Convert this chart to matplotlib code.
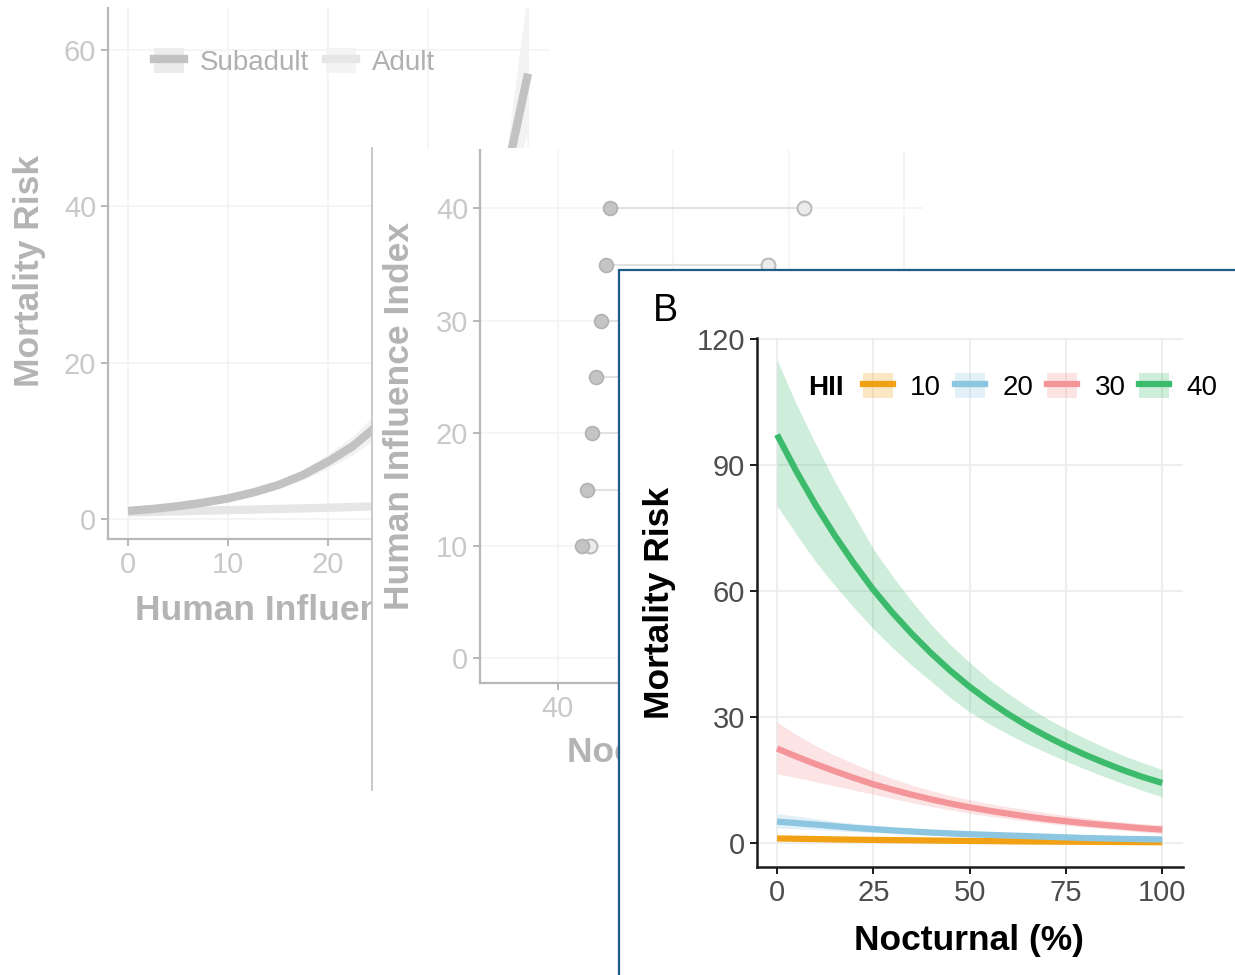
import numpy as np
import matplotlib
matplotlib.use("Agg")
import matplotlib.pyplot as plt
from matplotlib.patches import Rectangle, Patch
from matplotlib.lines import Line2D

plt.rcParams['font.family'] = ['Liberation Sans', 'DejaVu Sans']

# ---- panel A (back): mortality risk vs human influence, by age class
hii_x = [0, 2.5, 5, 7.5, 10, 12.5, 15, 17.5, 20, 22.5, 25, 27.5, 30, 32.5, 35, 37.5, 40]
subadult = [1.0, 1.25, 1.6, 2.05, 2.6, 3.35, 4.3, 5.6, 7.3, 9.3, 12.0, 15.5, 19.8, 25.5, 32.5, 42.0, 57.0]
subadult_lo = [0.9, 1.15, 1.45, 1.85, 2.35, 3.0, 3.85, 5.0, 6.4, 8.2, 10.4, 13.3, 16.8, 21.3, 26.8, 36.0, 50.0]
subadult_hi = [1.1, 1.4, 1.8, 2.3, 2.9, 3.75, 4.8, 6.3, 8.3, 10.6, 13.8, 17.5, 22.5, 28.5, 36.0, 43.5, 68.0]
adult_x = [0, 10, 20, 30, 40]
adult = [0.8, 1.1, 1.4, 1.8, 2.3]

# ---- middle panel: nocturnality of subadults (filled) and adults (open)
hii_levels = [10, 15, 20, 25, 30, 35, 40]
noct_subadult = [44.2, 45.0, 45.9, 46.6, 47.5, 48.3, 49.1]
noct_adult = [45.6, 54.0, 58.0, 63.0, 69.0, 76.5, 82.7]

# ---- panel B: mortality risk vs nocturnal %, by HII
noct = [0, 5, 10, 15, 20, 25, 30, 35, 40, 45, 50, 55, 60, 65, 70, 75, 80, 85, 90, 95, 100]
hii_names = ['10', '20', '30', '40']
risk_10 = [1.1, 1.02, 0.95, 0.87, 0.8, 0.75, 0.7, 0.65, 0.6, 0.55, 0.5,
           0.46, 0.42, 0.38, 0.35, 0.32, 0.3, 0.27, 0.25, 0.22, 0.2]
risk_10_lo = [0.8, 0.75, 0.7, 0.65, 0.6, 0.55, 0.5, 0.46, 0.43, 0.39, 0.36,
              0.33, 0.3, 0.27, 0.25, 0.23, 0.21, 0.19, 0.17, 0.15, 0.14]
risk_10_hi = [1.5, 1.4, 1.3, 1.2, 1.1, 1.02, 0.95, 0.87, 0.8, 0.73, 0.67,
              0.61, 0.56, 0.51, 0.47, 0.43, 0.4, 0.37, 0.34, 0.31, 0.28]
risk_20 = [5.1, 4.75, 4.4, 4.0, 3.6, 3.3, 3.0, 2.75, 2.5, 2.3, 2.1,
           1.95, 1.8, 1.65, 1.5, 1.35, 1.2, 1.1, 1.0, 0.92, 0.85]
risk_20_lo = [3.6, 3.4, 3.2, 2.95, 2.7, 2.5, 2.3, 2.1, 1.9, 1.75, 1.6,
              1.47, 1.35, 1.22, 1.1, 1.0, 0.9, 0.82, 0.75, 0.67, 0.6]
risk_20_hi = [7.0, 6.4, 5.8, 5.2, 4.7, 4.25, 3.8, 3.5, 3.2, 2.95, 2.7,
              2.5, 2.3, 2.1, 1.9, 1.75, 1.6, 1.47, 1.35, 1.25, 1.15]
risk_30 = [22.5, 20.6, 18.8, 17.1, 15.5, 14.0, 12.7, 11.5, 10.4, 9.4, 8.5,
           7.7, 7.0, 6.3, 5.7, 5.2, 4.7, 4.3, 3.9, 3.5, 3.2]
risk_30_lo = [16.5, 15.6, 14.6, 13.6, 12.6, 11.6, 10.6, 9.6, 8.7, 7.9, 7.1,
              6.4, 5.8, 5.2, 4.7, 4.2, 3.8, 3.4, 3.0, 2.6, 2.3]
risk_30_hi = [28.8, 25.8, 23.2, 20.9, 18.9, 17.0, 15.3, 13.8, 12.5, 11.3, 10.3,
              9.4, 8.6, 7.9, 7.2, 6.6, 6.0, 5.5, 5.0, 4.6, 4.3]
risk_40 = [97.2, 88.5, 80.5, 73.2, 66.5, 60.3, 54.8, 49.8, 45.2, 41.0, 37.2,
           33.8, 30.7, 27.9, 25.4, 23.1, 21.0, 19.1, 17.3, 15.7, 14.3]
risk_40_lo = [80.3, 73.5, 67.0, 61.3, 56.0, 51.0, 46.5, 42.3, 38.5, 34.6, 31.2,
              28.4, 25.9, 23.6, 21.5, 19.5, 17.6, 15.8, 14.1, 12.5, 11.0]
risk_40_hi = [115.0, 104.5, 95.0, 86.0, 78.0, 70.0, 63.5, 57.5, 52.0, 47.2, 43.0,
              39.0, 35.6, 32.5, 29.7, 27.2, 24.9, 22.8, 20.8, 19.1, 17.5]
hii_colors = ['#f2a114', '#8cc6e0', '#f4959a', '#3dbb6c']

TICK = 21
LEG = 20
TITLE = 25.5

fig = plt.figure(figsize=(12.35, 9.75), dpi=100)

def px(x0, y0, x1, y1):
    # pixel box (top-left origin) -> figure fraction rect
    W, H = 1235.0, 975.0
    return [x0 / W, 1 - y1 / H, (x1 - x0) / W, (y1 - y0) / H]

# ================= panel A (faded, behind) =================
g_tick, g_title, g_spine = '#c9c9c9', '#b4b4b4', '#b8b8b8'
ax1 = fig.add_axes(px(108, 8, 550, 539))
ax1.set_zorder(1)
ax1.fill_between(hii_x, subadult_lo, subadult_hi, color='#f3f3f3', lw=0)
ax1.plot(adult_x, adult, color='#e6e6e6', lw=6, solid_capstyle='butt')
ax1.plot(hii_x, subadult, color='#c2c2c2', lw=6, solid_capstyle='butt')
ax1.set_xlim(-2.0, 42.2)
ax1.set_ylim(-2.6, 65.4)
ax1.set_xticks([0, 10, 20, 30, 40])
ax1.set_yticks([0, 20, 40, 60])
ax1.grid(True, color='#f3f3f3', lw=1.2)
ax1.set_axisbelow(True)
for s in ['top', 'right']:
    ax1.spines[s].set_visible(False)
for s in ['left', 'bottom']:
    ax1.spines[s].set_color(g_spine)
    ax1.spines[s].set_linewidth(1.6)
ax1.tick_params(colors=g_spine, labelcolor=g_tick, labelsize=TICK, length=5, width=1.4)
ax1.set_ylabel('Mortality Risk', fontsize=TITLE, fontweight='bold', color=g_title, va='center')
ax1.yaxis.set_label_coords(-0.178, 0.505)
ax1.set_xlabel('Human Influence Index', fontsize=TITLE, fontweight='bold', color=g_title, va='center')
ax1.xaxis.set_label_coords(0.5, -0.134)
h_sub = (Patch(facecolor='#ececec', edgecolor='none'), Line2D([], [], color='#c2c2c2', lw=6))
h_ad = (Patch(facecolor='#f4f4f4', edgecolor='none'), Line2D([], [], color='#e6e6e6', lw=6))
ax1.legend([h_sub, h_ad], ['Subadult', 'Adult'], ncol=2, frameon=False,
           loc='upper left', bbox_to_anchor=(0.104, 0.925), borderpad=0, borderaxespad=0,
           fontsize=LEG, handlelength=1.08, handleheight=1.0,
           handletextpad=0.58, columnspacing=0.6, labelcolor='#b0b0b0')

# ================= middle panel =================
fig.add_artist(Rectangle((372 / 1235, 1 - 790 / 975), 563 / 1235, 642 / 975,
                         transform=fig.transFigure, facecolor='white', edgecolor='none', zorder=2))
fig.add_artist(Line2D([372 / 1235, 372 / 1235], [1 - 790 / 975, 1 - 148 / 975],
                      transform=fig.transFigure, color='#c4c4c4', lw=1.3, zorder=2.1))
ax2 = fig.add_axes(px(480, 150, 923, 683))
ax2.set_zorder(3)
ax2.patch.set_alpha(0)
ax2.hlines(hii_levels, noct_subadult, noct_adult, color='#e2e2e2', lw=1.5, zorder=2)
ax2.plot(noct_adult, hii_levels, 'o', ms=10, mfc='#ececec', mec='#bcbcbc', mew=1.5, zorder=3)
ax2.plot(noct_subadult, hii_levels, 'o', ms=10, mfc='#c4c4c4', mec='#b2b2b2', mew=1.2, zorder=4)
ax2.set_xlim(26.5, 103.3)
ax2.set_ylim(-2.2, 45.2)
ax2.set_xticks([40, 60, 80, 100])
ax2.set_yticks([0, 10, 20, 30, 40])
ax2.grid(True, color='#f3f3f3', lw=1.2)
ax2.set_axisbelow(True)
for s in ['top', 'right']:
    ax2.spines[s].set_visible(False)
for s in ['left', 'bottom']:
    ax2.spines[s].set_color(g_spine)
    ax2.spines[s].set_linewidth(1.6)
ax2.tick_params(colors=g_spine, labelcolor=g_tick, labelsize=TICK, length=5, width=1.4)
ax2.set_ylabel('Human Influence Index', fontsize=TITLE, fontweight='bold', color=g_title, va='center')
ax2.yaxis.set_label_coords(-0.181, 0.501)
ax2.set_xlabel('Nocturnal (%)', fontsize=TITLE, fontweight='bold', color=g_title, va='center')
ax2.xaxis.set_label_coords(0.455, -0.131)

# ================= panel B (front) =================
fig.add_artist(Rectangle((619 / 1235, -0.01), 0.52, 1 - 270 / 975 + 0.01,
                         transform=fig.transFigure, facecolor='white',
                         edgecolor='#1d5b88', lw=1.6, zorder=4))
fig.text(665 / 1235, 1 - 311 / 975, 'B', fontsize=27, ha='center', va='center', zorder=4.5)

ax3 = fig.add_axes(px(757, 338, 1183, 867))
ax3.set_zorder(5)
series = [(risk_10, risk_10_lo, risk_10_hi), (risk_20, risk_20_lo, risk_20_hi),
          (risk_30, risk_30_lo, risk_30_hi), (risk_40, risk_40_lo, risk_40_hi)]
handles = []
for (mid, lo, hi), col in zip(series, hii_colors):
    ax3.fill_between(noct, lo, hi, color=col, alpha=0.25, lw=0)
for (mid, lo, hi), col in zip(series, hii_colors):
    ax3.plot(noct, mid, color=col, lw=4.5, solid_capstyle='butt')
    handles.append((Patch(facecolor=col, alpha=0.25, edgecolor='none'),
                    Line2D([], [], color=col, lw=4.5)))
ax3.set_xlim(-5.2, 105.4)
ax3.set_ylim(-5.7, 120.2)
ax3.set_xticks([0, 25, 50, 75, 100])
ax3.set_yticks([0, 30, 60, 90, 120])
ax3.grid(True, color='#ebebeb', lw=1.2)
ax3.set_axisbelow(True)
for s in ['top', 'right']:
    ax3.spines[s].set_visible(False)
for s in ['left', 'bottom']:
    ax3.spines[s].set_color('#1a1a1a')
    ax3.spines[s].set_linewidth(1.8)
ax3.tick_params(colors='#1a1a1a', labelcolor='#4d4d4d', labelsize=TICK, length=5, width=1.4)
ax3.set_ylabel('Mortality Risk', fontsize=TITLE, fontweight='bold', va='center')
ax3.yaxis.set_label_coords(-0.228, 0.499)
ax3.set_xlabel('Nocturnal (%)', fontsize=TITLE, fontweight='bold', va='center')
ax3.xaxis.set_label_coords(0.498, -0.138)
ax3.text(0.162, 0.905, 'HII', transform=ax3.transAxes, fontsize=LEG, fontweight='bold',
         ha='center', va='center')
ax3.legend(handles, hii_names, ncol=4, frameon=False, loc='upper left',
           bbox_to_anchor=(0.249, 0.934), borderpad=0, borderaxespad=0, fontsize=LEG,
           handlelength=1.08, handleheight=1.0, handletextpad=0.62, columnspacing=0.5)

fig.savefig('out.png', dpi=100)
